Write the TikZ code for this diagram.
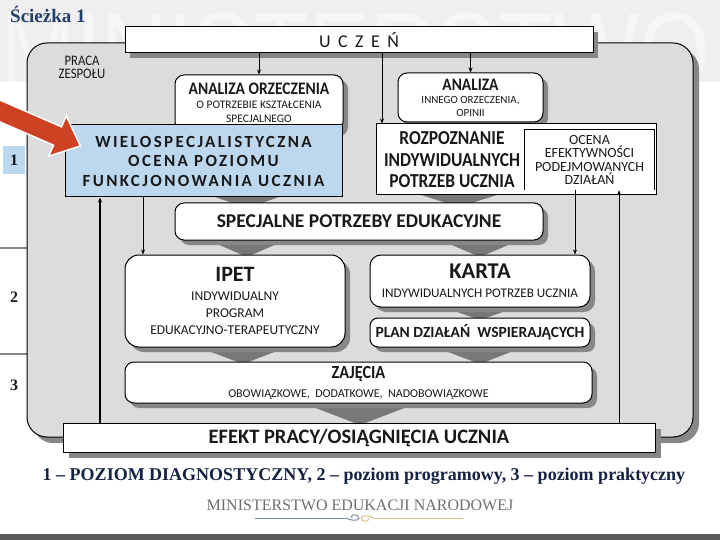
\documentclass[tikz,border=0pt]{standalone}
\usepackage{fontspec}
\setmainfont{Carlito}
\newfontfamily\serifb{Liberation Serif}
\newfontfamily\wmfont{Liberation Sans}
\newfontfamily\spacedfont[LetterSpace=14]{Carlito}
\newfontfamily\narrowfont[FakeStretch=0.88]{Carlito}
\usetikzlibrary{shadows,arrows.meta}
\definecolor{panelgray}{RGB}{220,220,220}
\definecolor{shadowgray}{RGB}{135,135,135}
\definecolor{chevgray}{RGB}{120,120,120}
\definecolor{lightblue}{RGB}{189,215,238}
\definecolor{bandgray}{RGB}{239,239,239}
\definecolor{wmwhite}{RGB}{246,246,246}
\definecolor{titleblue}{RGB}{36,64,104}
\definecolor{capnavy}{RGB}{22,34,66}
\definecolor{minigray}{RGB}{110,110,110}
\definecolor{redarrow}{RGB}{205,66,34}
\definecolor{flourblue}{RGB}{120,140,170}
\definecolor{flourgold}{RGB}{216,190,130}
\definecolor{txt}{RGB}{25,25,25}
\tikzset{
  shad/.style={drop shadow={opacity=1,fill=shadowgray,shadow xshift=5pt,shadow yshift=-5pt}},
  rbox/.style={draw=black,line width=1pt,fill=white,rounded corners=9pt,inner sep=0pt,align=center,text=txt,shad},
  sbox/.style={draw=black,line width=1pt,fill=white,inner sep=0pt,align=center,text=txt},
  arr/.style={-{Stealth[length=5pt,width=4pt]},line width=0.9pt},
  chev/.style={fill=chevgray,draw=none},
  lvl/.style={font=\serifb\bfseries\fontsize{16}{16}\selectfont,text=txt,inner sep=0pt}
}
\begin{document}
\begin{tikzpicture}[x=1pt,y=-1pt]
\useasboundingbox (0,0) rectangle (720,540);
% top band with watermark
\begin{scope}
  \clip (0,0) rectangle (720,82);
  \fill[bandgray] (0,0) rectangle (720,82);
  \node[anchor=base west,inner sep=0pt,text=wmwhite] (wm) at (0,90)
    {\scalebox{0.83}[1]{\wmfont\fontsize{110}{110}\selectfont MINISTERSTWO}};
\end{scope}
% bottom bar
\fill[black!65] (0,534) rectangle (720,540);
% level separators and labels
\draw[shadowgray,line width=2pt] (0,248) -- (27,248);
\draw[shadowgray,line width=2pt] (0,354) -- (27,354);
\fill[lightblue] (3,146) rectangle (25,174);
\node[lvl] (l1) at (14,160) {1};
\node[lvl] (l2) at (14,297) {2};
\node[lvl] (l3) at (14,385) {3};
% panel
\node[draw=black,line width=1pt,fill=panelgray,rounded corners=20pt,minimum width=666pt,minimum height=394pt,inner sep=0pt,
  drop shadow={opacity=1,fill=shadowgray,shadow xshift=6pt,shadow yshift=-6pt}] (panel) at (360,240) {};
\node[align=center,text=txt,font=\narrowfont\fontsize{14.5}{13}\selectfont,inner sep=0pt] (praca) at (82,67) {PRACA\\ZESPOŁU};
% chevrons
\fill[chev] (212,196) -- (282,196) -- (247,208) -- cycle;
\fill[chev] (418,194) -- (500,194) -- (459,207) -- cycle;
\fill[chev] (208,240) -- (286,240) -- (247,257) -- cycle;
\fill[chev] (440,240) -- (520,240) -- (480,257) -- cycle;
\fill[chev] (195,346) -- (290,346) -- (243,364) -- cycle;
\fill[chev] (440,306) -- (520,306) -- (480,320) -- cycle;
\fill[chev] (432,346) -- (526,346) -- (480,364) -- cycle;
\fill[chev] (300,402) -- (420,402) -- (360,425) -- cycle;
% boxes
\node[rbox,minimum width=168pt,minimum height=56pt,font=\fontsize{11.5}{14}\selectfont] (anaor) at (259,103)
  {{\narrowfont\fontsize{17.6}{14}\selectfont\bfseries ANALIZA ORZECZENIA}\\O POTRZEBIE KSZTAŁCENIA\\SPECJALNEGO};
\node[rbox,minimum width=145pt,minimum height=49pt,font=\fontsize{11}{13}\selectfont] (ana) at (470.5,97.5)
  {{\narrowfont\fontsize{17.5}{13}\selectfont\bfseries ANALIZA}\\INNEGO ORZECZENIA,\\OPINII};
\node[sbox,fill=lightblue,minimum width=277pt,minimum height=72pt,font=\spacedfont\bfseries\fontsize{17}{19.5}\selectfont] (wielo) at (203.5,161)
  {WIELOSPECJALISTYCZNA\\OCENA POZIOMU\\FUNKCJONOWANIA UCZNIA};
\node[sbox,minimum width=280pt,minimum height=71pt] (rozp) at (516,159.5) {};
\node[inner sep=0pt,align=center,text=txt,font=\narrowfont\bfseries\fontsize{19.8}{21.5}\selectfont] (rozptxt) at (452,160)
  {ROZPOZNANIE\\INDYWIDUALNYCH\\POTRZEB UCZNIA};
\node[inner sep=0pt,minimum width=129pt,minimum height=60pt,align=center,text=txt,font=\fontsize{14}{13.3}\selectfont] (ocena) at (589.5,160)
  {OCENA\\EFEKTYWNOŚCI\\PODEJMOWANYCH\\DZIAŁAŃ};
\draw[line width=0.8pt] (ocena.south west) |- (ocena.north east) -- (ocena.south east);
\node[rbox,minimum width=368pt,minimum height=37pt,font=\bfseries\fontsize{19.5}{20}\selectfont] (spec) at (359,221.5)
  {SPECJALNE POTRZEBY EDUKACYJNE};
\node[rbox,rounded corners=14pt,minimum width=220pt,minimum height=92pt,font=\fontsize{13.5}{17}\selectfont] (ipet) at (235,301)
  {{\fontsize{22}{17}\selectfont\bfseries IPET}\\[2pt]INDYWIDUALNY\\PROGRAM\\EDUKACYJNO-TERAPEUTYCZNY};
\node[rbox,rounded corners=11pt,minimum width=220pt,minimum height=52pt,font=\fontsize{13.2}{19}\selectfont] (karta) at (480,281)
  {{\fontsize{22.5}{19}\selectfont\bfseries KARTA}\\INDYWIDUALNYCH POTRZEB UCZNIA};
\node[rbox,rounded corners=8pt,minimum width=220pt,minimum height=29pt,font=\bfseries\fontsize{15.5}{16}\selectfont] (plan) at (480,332.5)
  {PLAN DZIAŁAŃ\ \ WSPIERAJĄCYCH};
\node[rbox,minimum width=467pt,minimum height=41pt,font=\fontsize{12}{19}\selectfont] (zaj) at (358.5,382.5)
  {{\narrowfont\fontsize{18.5}{19}\selectfont\bfseries ZAJĘCIA}\\OBOWIĄZKOWE,\ \ DODATKOWE,\ \ NADOBOWIĄZKOWE};
\node[sbox,minimum width=592pt,minimum height=29pt,font=\bfseries\fontsize{20.5}{21}\selectfont,
  drop shadow={opacity=1,fill=shadowgray,shadow xshift=6pt,shadow yshift=-6pt}] (efekt) at (359,437.5)
  {EFEKT PRACY/OSIĄGNIĘCIA UCZNIA};
\node[sbox,minimum width=468pt,minimum height=26pt,shad,font=\fontsize{18}{18}\selectfont] (uczen) at (359,40)
  {U\hspace{7.5pt}C\hspace{7.5pt}Z\hspace{7.5pt}E\hspace{7.5pt}Ń};
% connector x positions
\coordinate (xa) at (382,0);
\coordinate (xb) at (100,0);
\coordinate (xc) at (143,0);
\coordinate (xd) at (575,0);
\coordinate (xe) at (619,0);
% arrows
\draw[arr] (uczen.south -| anaor.north) -- (anaor.north);
\draw[arr] (uczen.south -| ana.north) -- (ana.north);
\draw[arr] (uczen.south -| xa) -- (rozp.north -| xa);
\draw[arr,line width=1.2pt] (efekt.north -| xb) -- (wielo.south -| xb);
\draw[arr] (wielo.south -| xc) -- (ipet.north -| xc);
\draw[arr] (ocena.south -| xd) -- (karta.north -| xd);
\draw[arr] (efekt.north -| xe) -- (ocena.south -| xe);
% red arrow
\fill[redarrow,draw=white,line width=1.5pt,line join=miter]
  (-7.3,96.9) -- (61.5,126.8) -- (66.3,115.8) -- (80.4,146.0) -- (48.7,156.2) -- (53.5,145.2) -- (-15.3,115.3) -- cycle;
% title and captions
\node[anchor=base west,inner sep=0pt,text=titleblue,font=\serifb\bfseries\fontsize{19}{19}\selectfont] (title) at (10,23) {Ścieżka 1};
\node[inner sep=0pt,text=capnavy,font=\serifb\bfseries\fontsize{18}{18}\selectfont] (caption) at (364,476)
  {1 – POZIOM DIAGNOSTYCZNY, 2 – poziom programowy, 3 – poziom praktyczny};
\node[inner sep=0pt,text=minigray,font=\serifb\fontsize{16}{16}\selectfont] (men) at (360,505) {MINISTERSTWO EDUKACJI NARODOWEJ};
% flourish
\coordinate (fl) at (255,518);
\coordinate (fc) at (360,518);
\coordinate (fr) at (463,518);
\draw[flourblue,line width=0.8pt] (fl) -- ([xshift=-14pt]fc);
\draw[flourgold,line width=0.8pt] ([xshift=14pt]fc) -- (fr);
\draw[flourblue,line width=1pt] ([xshift=-14pt]fc) .. controls ([xshift=-6pt,yshift=-4pt]fc) and ([xshift=2pt,yshift=-2pt]fc) .. ([xshift=-2pt,yshift=2pt]fc)
  .. controls ([xshift=-6pt,yshift=5pt]fc) and ([xshift=-10pt,yshift=2pt]fc) .. ([xshift=-8pt]fc);
\draw[flourgold,line width=1pt] ([xshift=14pt]fc) .. controls ([xshift=6pt,yshift=4pt]fc) and ([xshift=-1pt,yshift=2pt]fc) .. ([xshift=2pt,yshift=-2pt]fc)
  .. controls ([xshift=6pt,yshift=-5pt]fc) and ([xshift=10pt,yshift=-2pt]fc) .. ([xshift=8pt]fc);
\end{tikzpicture}
\end{document}
